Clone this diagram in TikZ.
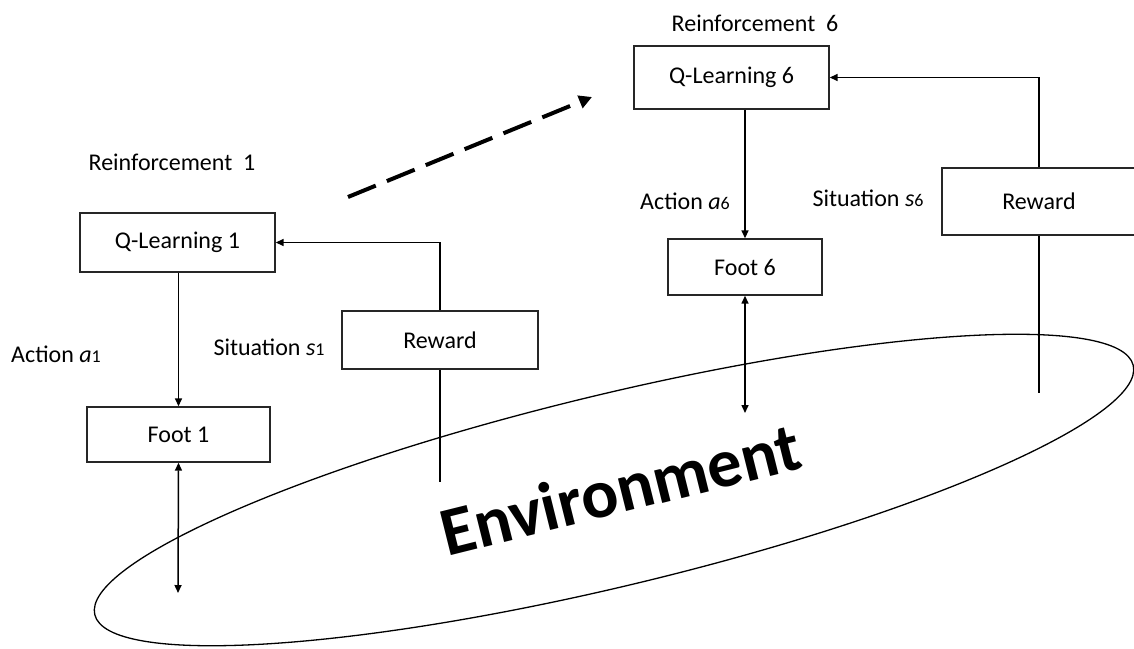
\documentclass[tikz,border=0pt]{standalone}
\usepackage{fontspec}
\setmainfont{Carlito}
\usetikzlibrary{arrows.meta,shapes.geometric}
\tikzset{
  box/.style={draw=black!85, line width=1.4pt, inner sep=0pt},
  lbl/.style={inner sep=0pt},
  arr/.style={line width=1.5pt,-{Triangle[length=8pt,width=7pt]}},
  darr/.style={line width=1.5pt,{Triangle[length=8pt,width=7pt]}-{Triangle[length=8pt,width=7pt]}},
}
\newcommand\idx[1]{{\fontsize{18}{20}\selectfont #1}}

\begin{document}
\begin{tikzpicture}[x=1pt,y=-1pt]
\fontsize{24}{28}\selectfont
\clip (0,0) rectangle (1134,648);
\node[draw, ellipse, line width=1.3pt, rotate=13.5, minimum width=1068pt, minimum height=192pt, inner sep=0pt] (env) at (614,490) {};
\node[rotate=14, anchor=base, font=\fontsize{69}{80}\selectfont\bfseries] (envtxt) at (626,512) {Environment};

\node[lbl] (rf1) at (172,162) {Reinforcement\ \ 1};
\node[box, minimum width=195pt, minimum height=59pt] (q1) at (177.5,242.5) {Q-Learning 1};
\node[box, minimum width=183pt, minimum height=55pt] (foot1) at (178.5,434.5) {Foot 1};
\node[box, minimum width=196pt, minimum height=58pt] (rw1) at (440,340) {Reward};
\node[lbl] (act1) at (56,354) {Action \textit{a}\idx{1}};
\node[lbl] (sit1) at (269,347) {Situation \textit{s}\idx{1}};
\coordinate (e1) at (178,593);
\coordinate (g1) at (440,482);

\node[lbl] (rf6) at (755,23) {Reinforcement\ \ 6};
\node[box, minimum width=195pt, minimum height=63pt] (q6) at (731.5,77.5) {Q-Learning 6};
\node[box, minimum width=154pt, minimum height=56pt] (foot6) at (745,267) {Foot 6};
\node[box, minimum width=194pt, minimum height=67pt] (rw6) at (1039,201.5) {Reward};
\node[lbl] (act6) at (685,201) {Action \textit{a}\idx{6}};
\node[lbl] (sit6) at (868,198) {Situation \textit{s}\idx{6}};
\coordinate (e6) at (745,413);
\coordinate (g6) at (1039,393);

\path[draw,arr] (q1.south -| foot1.north) -- (foot1.north);
\path[draw,darr] (foot1.south) -- (e1);
\path[draw,arr] (rw1.north) |- (q1.east);
\path[draw,line width=1.5pt] (rw1.south) -- (g1);

\path[draw,arr] (q6.south -| foot6.north) -- (foot6.north);
\path[draw,darr] (foot6.south) -- (e6);
\path[draw,arr] (rw6.north) |- (q6.east);
\path[draw,line width=1.5pt] (rw6.south) -- (g6);

\coordinate (d0) at (348,197);
\coordinate (d1) at (592,97);
\path[draw,line width=4pt,dash pattern=on 30pt off 12pt,-{Triangle[length=13pt,width=13pt]}] (d0) -- (d1);
\end{tikzpicture}
\end{document}
